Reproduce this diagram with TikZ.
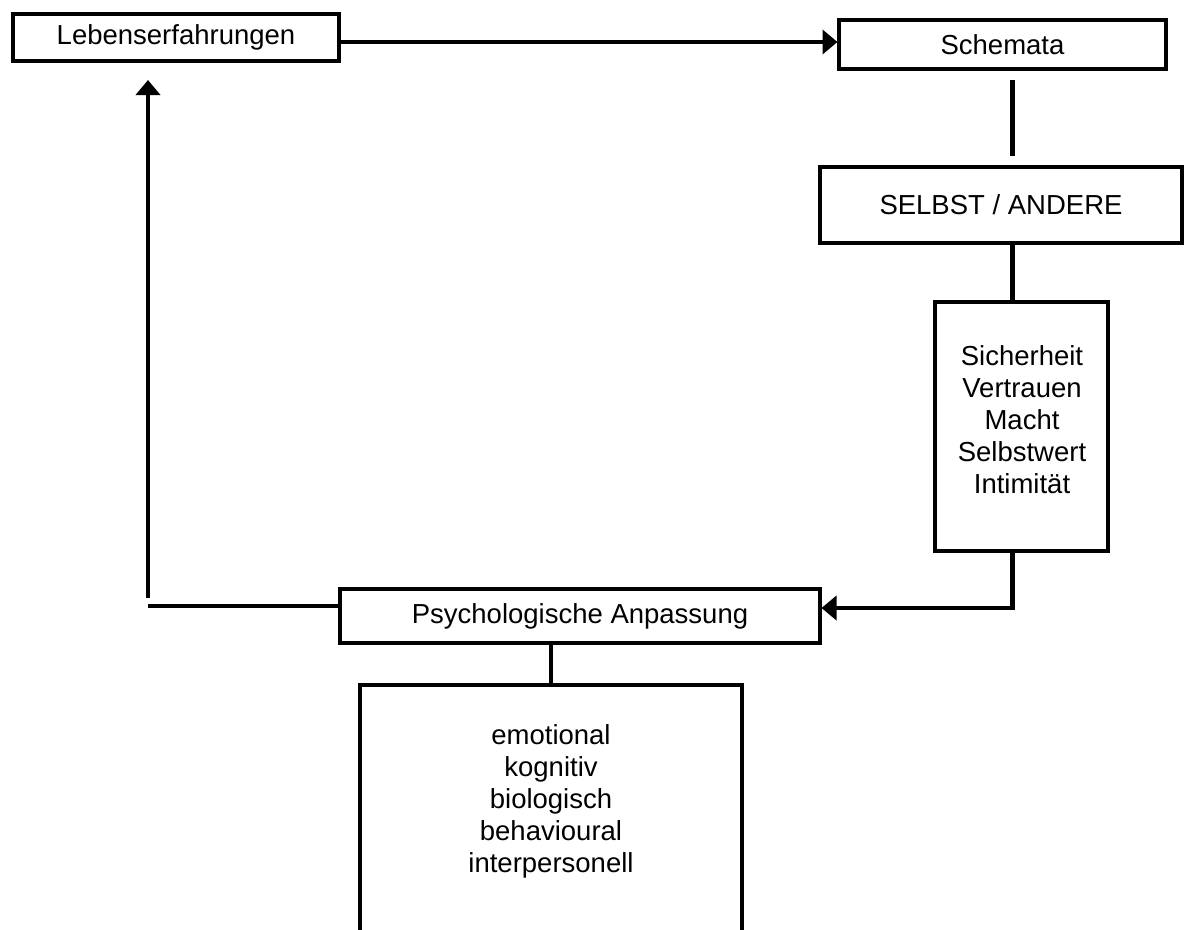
\documentclass[tikz,border=0pt]{standalone}
\usepackage{fontspec}
\setmainfont{Liberation Sans}
\usetikzlibrary{arrows.meta}
\begin{document}
\begin{tikzpicture}[x=1pt,y=-1pt,
  box/.style={draw=black, line width=4.3pt, inner sep=0pt, outer sep=0pt, fill=white,
    font=\fontsize{27.5}{32}\selectfont, align=center},
  txt/.style={inner sep=0pt, font=\fontsize{27.5}{32}\selectfont, align=center},
  conn/.style={draw=black, line width=4.3pt},
  arr/.style={conn, -{Triangle[length=15pt,width=24pt]}}]
\clip (0,0) rectangle (1191,929);
\fill[white] (0,0) rectangle (1191,929);
% nodes
\node[box, minimum width=326pt, minimum height=47pt] (leben) at (176,37.5) {Lebenserfahrungen};
\node[box, minimum width=327pt, minimum height=49pt] (schemata) at (1002.5,44.5) {Schemata};
\node[box, minimum width=362pt, minimum height=76pt] (selbst) at (1001,205) {SELBST / ANDERE};
\node[box, minimum width=173pt, minimum height=249pt] (sicher) at (1021.5,426.5) {};
\node[txt] (sichertext) at (1022,420) {Sicherheit\\Vertrauen\\Macht\\Selbstwert\\Intimität};
\node[box, minimum width=480pt, minimum height=54pt] (psych) at (580,616) {Psychologische Anpassung};
\node[box, minimum width=382pt, minimum height=320pt] (dims) at (551,845) {};
\node[txt] (dimstext) at (551,801) {emotional\\kognitiv\\biologisch\\behavioural\\interpersonell};
% helper coordinates
\coordinate (ya) at (0,42);
\coordinate (xs) at (1012.5,0);
\coordinate (yp) at (0,608);
\coordinate (yl) at (0,606);
\coordinate (xl) at (148,0);
\coordinate (lcorner) at (148,606);
\coordinate (lstart) at (148,598);
\coordinate (rcorner) at (1012.5,608);
% connectors
\draw[arr, shorten >=1.5pt] (leben.east |- ya) -- (schemata.west |- ya);
\draw[conn, shorten <=11pt, shorten >=11pt] (schemata.south -| xs) -- (selbst.north -| xs);
\draw[conn] (selbst.south -| xs) -- (sicher.north -| xs);
\draw[arr, shorten >=1.5pt] (sicher.south -| xs) -- (rcorner) -- (psych.east |- yp);
\draw[conn] (psych.west |- yl) -- (lcorner);
\draw[arr, shorten >=19pt] (lstart) -- (leben.south -| xl);
\draw[conn] (psych.south -| dims.north) -- (dims.north);
\end{tikzpicture}
\end{document}
